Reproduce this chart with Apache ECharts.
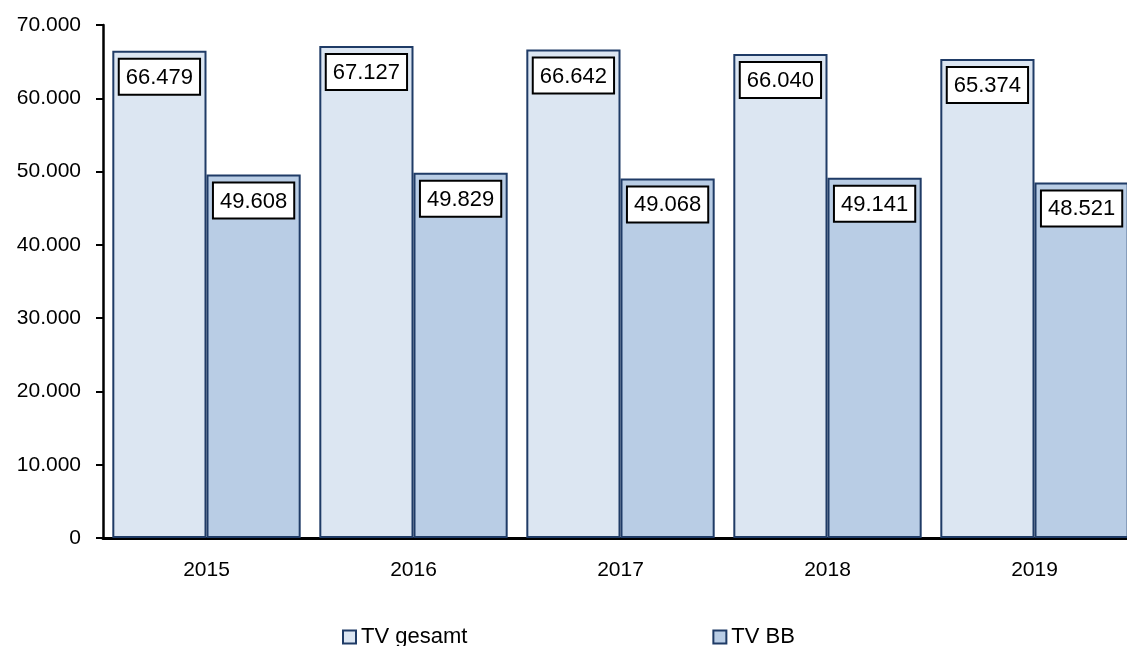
<!DOCTYPE html>
<html>
<head>
<meta charset="utf-8">
<script src="https://cdn.jsdelivr.net/npm/echarts@6/dist/echarts.min.js"></script>
<style>
  html, body { margin: 0; padding: 0; background: #fff; }
  #chart { width: 1127px; height: 646px; }
</style>
</head>
<body>
<div id="chart"></div>
<script>
// TV gesamt / TV BB, 2015-2019
const years = ['2015', '2016', '2017', '2018', '2019'];
const tvGesamt = [66479, 67127, 66642, 66040, 65374];
const tvBB = [49608, 49829, 49068, 49141, 48521];

const FONT = "'Liberation Sans Narrow', 'Arial Narrow', 'Liberation Sans', sans-serif";

const fmt = v => String(v).replace(/\B(?=(\d{3})+(?!\d))/g, '.');

const chart = echarts.init(document.getElementById('chart'));

const labelStyle = {
  show: true,
  position: 'insideTop',
  distance: 9,
  formatter: p => fmt(p.value),
  fontFamily: FONT,
  fontSize: 22,
  color: '#000',
  backgroundColor: '#fff',
  borderColor: '#000',
  borderWidth: 2,
  padding: [7, 6, 5, 6]
};

const option = {
  animation: false,
  textStyle: { fontFamily: FONT },
  grid: {
    left: 103,
    top: 25,
    bottom: 108,
    width: 1035,
    outerBoundsMode: 'none'
  },
  legend: {
    left: 337,
    top: 621,
    itemGap: 245,
    itemWidth: 13,
    itemHeight: 13,
    icon: 'rect',
    textStyle: { fontFamily: FONT, fontSize: 22, color: '#000' },
    data: ['TV gesamt', 'TV BB']
  },
  xAxis: {
    type: 'category',
    data: years,
    axisLine: { lineStyle: { color: '#000', width: 3 } },
    axisTick: { show: false },
    axisLabel: { fontFamily: FONT, fontSize: 21, color: '#000', margin: 22 }
  },
  yAxis: {
    type: 'value',
    min: 0,
    max: 70000,
    interval: 10000,
    splitLine: { show: false },
    axisLine: { show: true, lineStyle: { color: '#000', width: 2.5 } },
    axisTick: { show: true, length: 7, lineStyle: { color: '#000', width: 2 } },
    axisLabel: {
      fontFamily: FONT, fontSize: 21, color: '#000', margin: 22,
      formatter: v => fmt(v)
    }
  },
  series: [
    {
      name: 'TV gesamt',
      type: 'bar',
      data: tvGesamt,
      barGap: '0%',
      barCategoryGap: '9%',
      itemStyle: { color: '#dce6f2', borderColor: '#1f3b66', borderWidth: 2 },
      label: labelStyle
    },
    {
      name: 'TV BB',
      type: 'bar',
      data: tvBB,
      itemStyle: { color: '#b9cde5', borderColor: '#1f3b66', borderWidth: 2 },
      label: labelStyle
    }
  ]
};

chart.setOption(option);
</script>
</body>
</html>
